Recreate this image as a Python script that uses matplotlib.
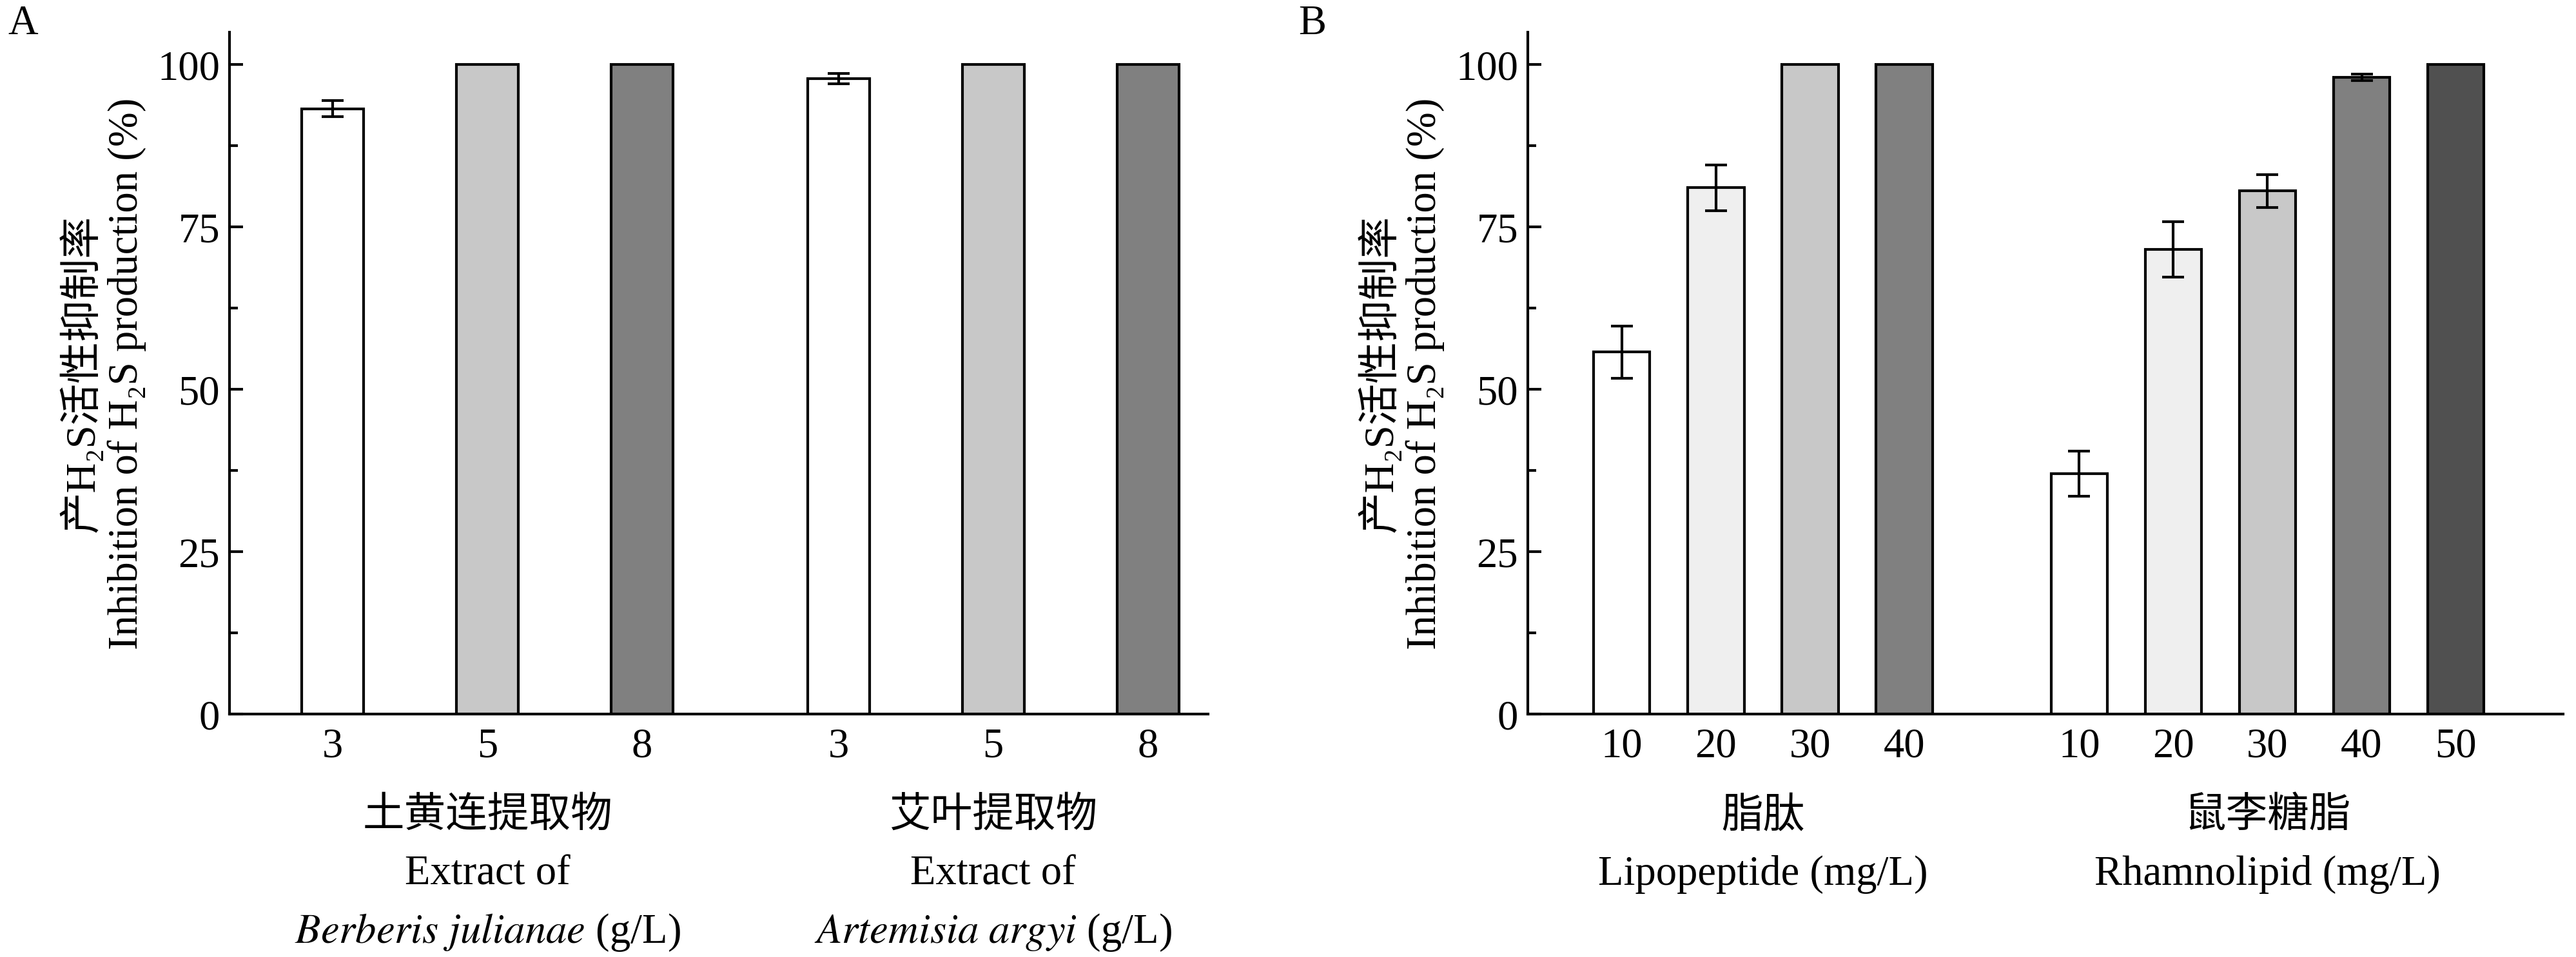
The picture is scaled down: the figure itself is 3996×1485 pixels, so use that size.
import numpy as np
import matplotlib.pyplot as plt
import matplotlib.transforms as mtransforms

plt.rcParams['font.family'] = ['Liberation Serif', 'Noto Sans CJK SC', 'DejaVu Serif']
plt.rcParams['mathtext.fontset'] = 'stix'
plt.rcParams['font.size'] = 15.5

# panel A data
a_labels = ['3', '5', '8', '3', '5', '8']
a_vals = [93.2, 100, 100, 97.8, 100, 100]
a_err = [1.2, 0, 0, 0.8, 0, 0]
a_colors = ['white', '#c8c8c8', '#808080', 'white', '#c8c8c8', '#808080']
a_pos = [0, 1, 2, 3.27, 4.27, 5.27]

# panel B data
b_labels = ['10', '20', '30', '40', '10', '20', '30', '40', '50']
b_vals = [55.7, 81.0, 100, 100, 37.0, 71.5, 80.5, 98.0, 100]
b_err = [4.0, 3.5, 0, 0, 3.5, 4.3, 2.5, 0.5, 0]
b_colors = ['white', '#efefef', '#c8c8c8', '#808080',
            'white', '#efefef', '#c8c8c8', '#808080', '#505050']
b_pos = [0, 1, 2, 3, 4.86, 5.86, 6.86, 7.86, 8.86]

ylabel = '产H\u2082S活性抑制率\nInhibition of H\u2082S production (%)'

fig = plt.figure(figsize=(13.32, 4.953), dpi=300)
axA = fig.add_axes([0.089, 0.254, 0.38, 0.712])
axB = fig.add_axes([0.593, 0.254, 0.402, 0.712])


def style(ax, pos, vals, err, colors, labels, width):
    ax.bar(pos, vals, width=width, color=colors, edgecolor='black', linewidth=1.0)
    e = np.array(err)
    m = e > 0
    ax.errorbar(np.array(pos)[m], np.array(vals)[m], yerr=e[m], fmt='none',
                ecolor='black', elinewidth=1.0, capsize=4, capthick=1.0)
    ax.set_ylim(0, 105)
    ax.set_yticks([0, 25, 50, 75, 100])
    ax.set_yticks(np.arange(12.5, 100, 25), minor=True)
    ax.tick_params(axis='y', which='both', direction='in', width=1.0)
    ax.tick_params(axis='y', which='major', length=5)
    ax.tick_params(axis='y', which='minor', length=3)
    ax.set_xticks(pos)
    ax.set_xticklabels(labels)
    ax.tick_params(axis='x', length=0, pad=5)
    for s in ['top', 'right']:
        ax.spines[s].set_visible(False)
    for s in ['left', 'bottom']:
        ax.spines[s].set_linewidth(1.0)
    ax.set_ylabel(ylabel, linespacing=1.15)


def group_text(ax, x, lines):
    tr = mtransforms.blended_transform_factory(ax.transData, ax.transAxes)
    for i, t in enumerate(lines):
        ax.text(x, -0.15 - i * 0.085, t, transform=tr, ha='center', va='center')


style(axA, a_pos, a_vals, a_err, a_colors, a_labels, 0.4)
axA.set_xlim(-0.67, 5.66)
group_text(axA, 1, ['土黄连提取物', 'Extract of', r'$\it{Berberis\ julianae}$ (g/L)'])
group_text(axA, 4.27, ['艾叶提取物', 'Extract of', r'$\it{Artemisia\ argyi}$ (g/L)'])

style(axB, b_pos, b_vals, b_err, b_colors, b_labels, 0.6)
axB.set_xlim(-1.0, 10.0)
group_text(axB, 1.5, ['脂肽', 'Lipopeptide (mg/L)'])
group_text(axB, 6.86, ['鼠李糖脂', 'Rhamnolipid (mg/L)'])

fig.text(0.003, 0.975, 'A', fontsize=15.5, va='center')
fig.text(0.504, 0.975, 'B', fontsize=15.5, va='center')

fig.savefig('out.png', dpi=300)
